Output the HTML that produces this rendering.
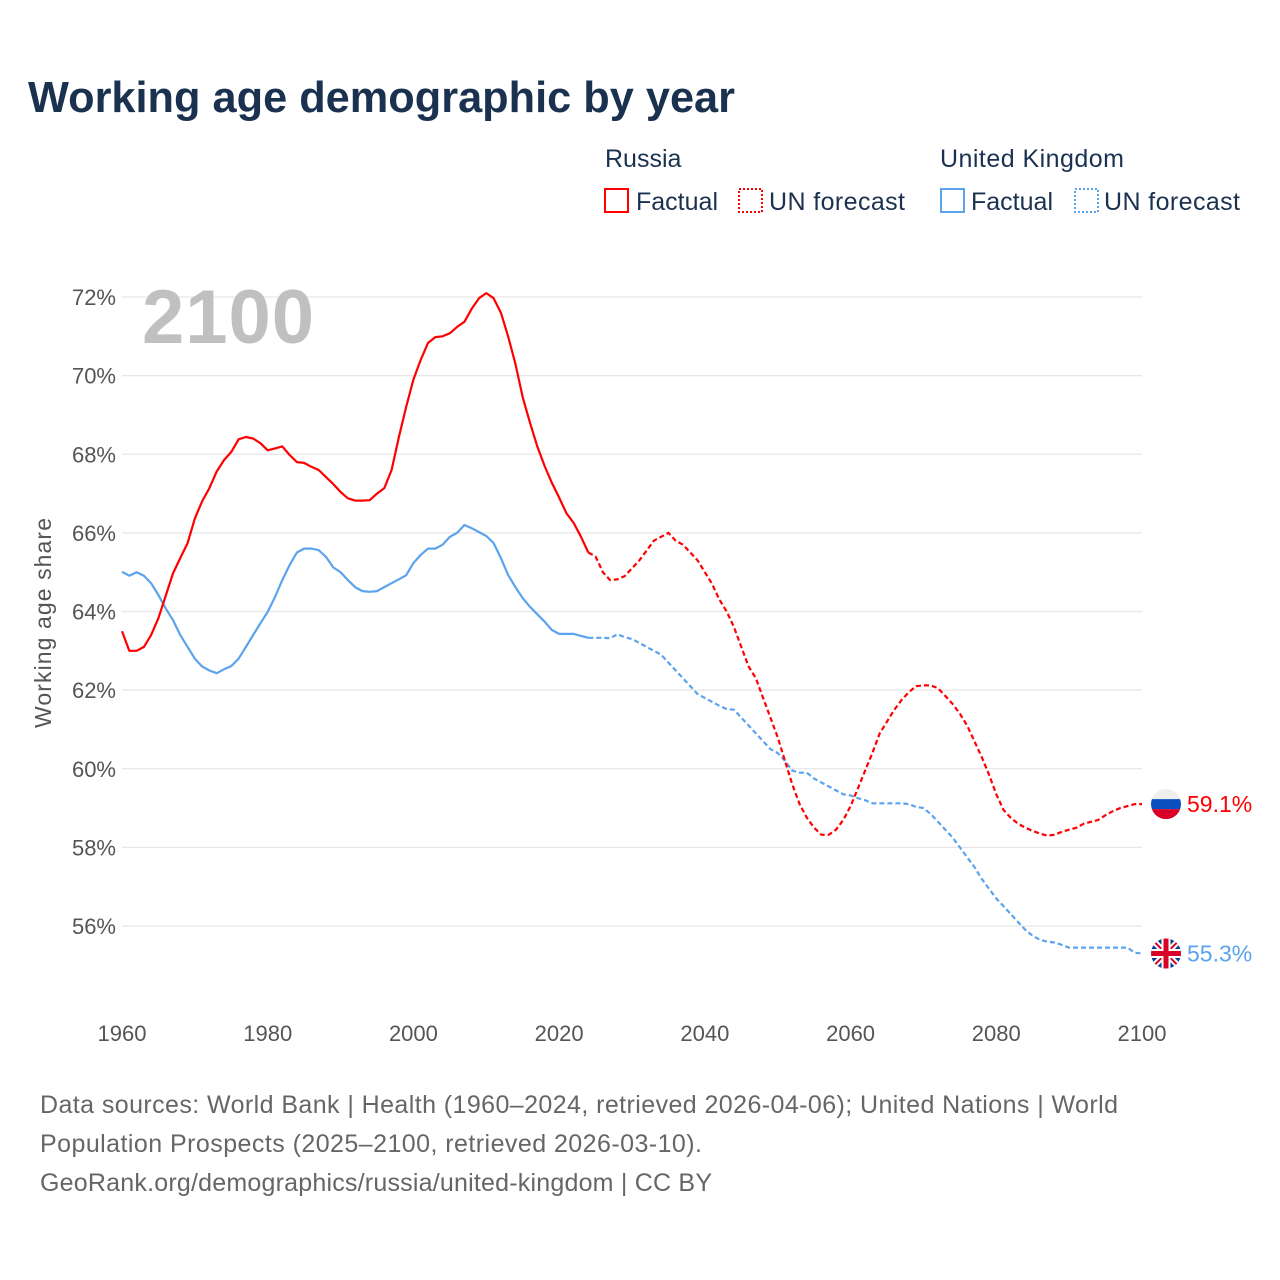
<!DOCTYPE html>
<html><head><meta charset="utf-8"><style>
body{margin:0;background:#fff;font-family:"Liberation Sans",sans-serif}
svg{display:block}
</style></head><body>
<svg id="c" width="1280" height="1280" xmlns="http://www.w3.org/2000/svg" font-family="Liberation Sans, sans-serif">
<text x="28" y="112" font-size="44" font-weight="bold" fill="#1b3150" textLength="707" lengthAdjust="spacingAndGlyphs">Working age demographic by year</text>
<g font-size="25" fill="#1b3150">
<text x="605" y="167">Russia</text>
<rect x="605" y="189" width="23" height="23" fill="none" stroke="#f00" stroke-width="2"/>
<text x="636" y="210" textLength="82">Factual</text>
<rect x="739" y="189" width="23" height="23" fill="none" stroke="#f00" stroke-width="2" stroke-dasharray="2,2"/>
<text x="769" y="210" textLength="136">UN forecast</text>
<text x="940" y="167" textLength="184">United Kingdom</text>
<rect x="941" y="189" width="23" height="23" fill="none" stroke="#5ba3ec" stroke-width="2"/>
<text x="971" y="210" textLength="82">Factual</text>
<rect x="1075" y="189" width="23" height="23" fill="none" stroke="#5ba3ec" stroke-width="2" stroke-dasharray="2,2"/>
<text x="1104" y="210" textLength="136">UN forecast</text>
</g>
<g id="grid"></g>
<text x="142" y="343" font-size="76" font-weight="bold" fill="#c0c0c0" textLength="172">2100</text>
<g id="series"></g>
<text transform="translate(51,623) rotate(-90)" text-anchor="middle" font-size="23" fill="#555" textLength="210">Working age share</text>
<g id="ends"></g>
<g font-size="25" fill="#666">
<text x="40" y="1113" textLength="1078">Data sources: World Bank | Health (1960–2024, retrieved 2026-04-06); United Nations | World</text>
<text x="40" y="1152" textLength="662">Population Prospects (2025–2100, retrieved 2026-03-10).</text>
<text x="40" y="1191" textLength="672">GeoRank.org/demographics/russia/united-kingdom | CC BY</text>
</g>
</svg>
<script>
const startYear = 1960;
const forecastStart = 2024;
const russia = [63.5,63.0,63.0,63.1,63.4,63.83,64.4,64.97,65.36,65.74,66.37,66.8,67.14,67.56,67.85,68.06,68.38,68.44,68.4,68.28,68.1,68.15,68.2,67.98,67.8,67.78,67.68,67.6,67.42,67.24,67.04,66.88,66.82,66.82,66.83,67.0,67.14,67.6,68.44,69.2,69.9,70.4,70.83,70.98,71.0,71.08,71.24,71.37,71.7,71.97,72.1,71.97,71.6,71.0,70.3,69.45,68.8,68.2,67.7,67.27,66.9,66.5,66.25,65.9,65.5,65.4,65.0,64.8,64.82,64.9,65.1,65.3,65.55,65.8,65.9,66.0,65.8,65.7,65.5,65.3,65.0,64.7,64.3,64.0,63.6,63.1,62.6,62.3,61.8,61.3,60.8,60.2,59.6,59.1,58.75,58.5,58.32,58.32,58.45,58.7,59.05,59.5,59.95,60.4,60.9,61.2,61.5,61.75,61.95,62.1,62.12,62.12,62.05,61.85,61.65,61.4,61.1,60.7,60.3,59.85,59.35,58.95,58.75,58.6,58.5,58.42,58.35,58.3,58.32,58.4,58.45,58.5,58.6,58.65,58.7,58.82,58.92,59.0,59.05,59.1,59.1];
const uk = [65.01,64.91,65.0,64.91,64.72,64.42,64.08,63.78,63.4,63.1,62.8,62.6,62.5,62.43,62.53,62.61,62.8,63.1,63.4,63.7,63.99,64.37,64.8,65.18,65.5,65.6,65.6,65.56,65.39,65.12,65.0,64.8,64.62,64.52,64.5,64.52,64.62,64.72,64.82,64.92,65.23,65.44,65.6,65.6,65.7,65.9,66.0,66.2,66.12,66.02,65.92,65.74,65.36,64.93,64.62,64.34,64.12,63.93,63.74,63.53,63.43,63.43,63.43,63.38,63.33,63.33,63.33,63.32,63.42,63.35,63.3,63.2,63.1,63.0,62.9,62.7,62.5,62.3,62.1,61.9,61.8,61.7,61.6,61.52,61.5,61.3,61.1,60.9,60.7,60.5,60.4,60.2,59.95,59.9,59.9,59.75,59.65,59.55,59.45,59.35,59.32,59.25,59.2,59.12,59.12,59.12,59.12,59.12,59.1,59.03,59.0,58.85,58.65,58.45,58.25,58.0,57.75,57.5,57.2,56.95,56.7,56.5,56.3,56.1,55.9,55.75,55.65,55.6,55.58,55.52,55.45,55.45,55.45,55.45,55.45,55.45,55.45,55.45,55.45,55.32,55.3];
const yTicks = [56,58,60,62,64,66,68,70,72];
const xTicks = [1960,1980,2000,2020,2040,2060,2080,2100];

const NS = "http://www.w3.org/2000/svg";
const X = yr => 122 + (yr - 1960) * (1020 / 140);
const Y = v => 297 + (72 - v) * (629 / 16);
function mk(tag, attrs, parent){const e=document.createElementNS(NS,tag);for(const k in attrs)e.setAttribute(k,attrs[k]);parent.appendChild(e);return e;}
const grid=document.getElementById('grid');
yTicks.forEach(t=>{
  const l=mk('line',{x1:122,x2:1142,y1:Y(t),y2:Y(t),stroke:'#e6e6e6','stroke-width':1.3},grid);
  
  
  const tx=mk('text',{x:116,y:Y(t)+8,'text-anchor':'end','font-size':22,fill:'#555'},grid);
  tx.textContent=t+'%';
  
  
});
xTicks.forEach(t=>{
  const tx=mk('text',{x:X(t),y:1041,'text-anchor':'middle','font-size':22,fill:'#555'},grid);
  tx.textContent=t;
  
  
});
const ser=document.getElementById('series');
function pts(arr,a,b){const p=[];for(let i=a;i<=b;i++)p.push(X(startYear+i).toFixed(1)+','+Y(arr[i]).toFixed(1));return p.join(' ');}
const fi = forecastStart - startYear;
[[uk,'#5ba3ec','uk'],[russia,'#f00','russia']].forEach(([arr,col,nm])=>{
  const a=mk('polyline',{points:pts(arr,0,fi),fill:'none',stroke:col,'stroke-width':2.2,'stroke-linejoin':'round'},ser);
  
  
  const b=mk('polyline',{points:pts(arr,fi,arr.length-1),fill:'none',stroke:col,'stroke-width':2.2,'stroke-dasharray':'5,3'},ser);
  
  
});
const ends=document.getElementById('ends');
const ry=Y(russia[russia.length-1]), uy=Y(uk[uk.length-1]);
const fr=mk('g',{},ends);


mk('clipPath',{id:'cr'},fr); mk('circle',{cx:1166,cy:ry,r:15},document.getElementById('cr'));
mk('rect',{x:1151,y:ry-15,width:30,height:10,fill:'#eee','clip-path':'url(#cr)'},fr);
mk('rect',{x:1151,y:ry-5,width:30,height:10,fill:'#0a4ec0','clip-path':'url(#cr)'},fr);
mk('rect',{x:1151,y:ry+5,width:30,height:10,fill:'#d80027','clip-path':'url(#cr)'},fr);
const fu=mk('g',{},ends);


mk('clipPath',{id:'cu'},fu); mk('circle',{cx:1166,cy:uy,r:15},document.getElementById('cu'));
mk('rect',{x:1151,y:uy-15,width:30,height:30,fill:'#0a3d91','clip-path':'url(#cu)'},fu);
mk('path',{d:`M1151 ${uy-15}L1181 ${uy+15}M1181 ${uy-15}L1151 ${uy+15}`,stroke:'#fff','stroke-width':6,'clip-path':'url(#cu)'},fu);
mk('path',{d:`M1151 ${uy-15}L1181 ${uy+15}M1181 ${uy-15}L1151 ${uy+15}`,stroke:'#d80027','stroke-width':2,'clip-path':'url(#cu)'},fu);
mk('path',{d:`M1166 ${uy-15}V${uy+15}M1151 ${uy}H1181`,stroke:'#fff','stroke-width':9,'clip-path':'url(#cu)'},fu);
mk('path',{d:`M1166 ${uy-15}V${uy+15}M1151 ${uy}H1181`,stroke:'#d80027','stroke-width':5,'clip-path':'url(#cu)'},fu);
const rl=mk('text',{x:1187,y:ry+8,'font-size':23,fill:'#f00'},ends);
rl.textContent=russia[russia.length-1].toFixed(1)+'%';


const ul=mk('text',{x:1187,y:uy+8,'font-size':23,fill:'#5ba3ec'},ends);
ul.textContent=uk[uk.length-1].toFixed(1)+'%';


</script>
</body></html>
